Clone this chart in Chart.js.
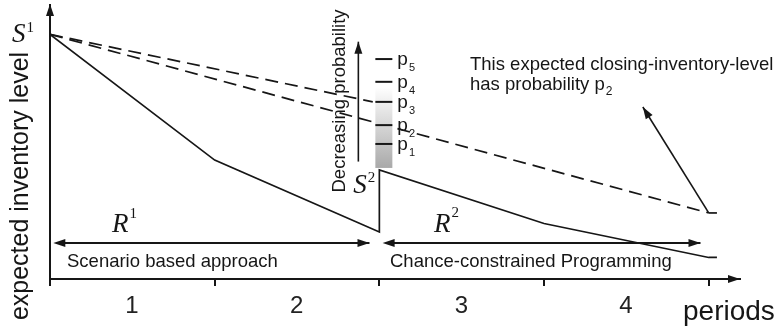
<!DOCTYPE html>
<html>
<head>
<meta charset="utf-8">
<script src="https://cdn.jsdelivr.net/npm/chart.js@4/dist/chart.umd.min.js"></script>
<style>
  body { margin: 0; background: #fff; }
  canvas { display: block; }
</style>
</head>
<body>
<canvas id="chart" width="779" height="328"></canvas>
<script>
    // values (x = period, y = expected inventory level)
    const periods = ['1', '2', '3', '4'];
    const periodTicks = [0, 1, 2, 3, 4];

    const scenarioX = [0, 1, 2, 2, 3, 4, 4.05];
    const scenarioY = [100, 48.6, 19.2, 44.6, 22.7, 8.8, 8.8];

    const p3PathX = [0, 1.96];
    const p3PathY = [100, 72.4];

    const p2PathX = [0, 4, 4.05];
    const p2PathY = [100, 27.0, 27.0];

    const probLevels = [55.2, 62.9, 72.4, 80.6, 89.9];
    const probNames = ['1', '2', '3', '4', '5'];

    const INK = '#161616';
    const SANS = '"Liberation Sans", Arial, sans-serif';
    const SERIF = '"Liberation Serif", "Times New Roman", serif';

    const toPoints = (xs, ys) => xs.map((x, i) => ({ x: x, y: ys[i] }));

    function arrowHead(ctx, x1, y1, x2, y2, len, half) {
        const a = Math.atan2(y2 - y1, x2 - x1);
        ctx.beginPath();
        ctx.moveTo(x2, y2);
        ctx.lineTo(x2 - len * Math.cos(a) + half * Math.sin(a), y2 - len * Math.sin(a) - half * Math.cos(a));
        ctx.lineTo(x2 - len * Math.cos(a) - half * Math.sin(a), y2 - len * Math.sin(a) + half * Math.cos(a));
        ctx.closePath();
        ctx.fill();
    }

    function arrow(ctx, x1, y1, x2, y2, w) {
        ctx.lineWidth = w;
        ctx.beginPath();
        ctx.moveTo(x1, y1);
        ctx.lineTo(x2, y2);
        ctx.stroke();
        arrowHead(ctx, x1, y1, x2, y2, 12, 4);
    }

    // text with a super/subscript after it
    function scripted(ctx, base, script, x, y, baseFont, scriptFont, dy) {
        ctx.font = baseFont;
        ctx.fillText(base, x, y);
        const w = ctx.measureText(base).width;
        ctx.font = scriptFont;
        ctx.fillText(script, x + w + 1, y + dy);
    }

    const sketch = {
        id: 'sketch',
        afterDatasetsDraw(chart) {
            // probability bar sits on top of the dashed path
            const { ctx, scales: { x, y } } = chart;
            const bx = x.getPixelForValue(2);
            const top = y.getPixelForValue(78.5);
            const bottom = y.getPixelForValue(45.4);
            const g = ctx.createLinearGradient(0, top, 0, bottom);
            g.addColorStop(0, 'rgba(255,255,255,1)');
            g.addColorStop(1, '#a9a9a9');
            ctx.save();
            ctx.fillStyle = g;
            ctx.fillRect(bx - 4, top, 17, bottom - top);
            ctx.restore();
        },
        afterDraw(chart) {
            const { ctx, chartArea: a, scales: { x, y } } = chart;
            const bx = x.getPixelForValue(2);
            ctx.save();
            ctx.fillStyle = INK;
            ctx.strokeStyle = INK;

            // axis arrows
            arrowHead(ctx, a.left, a.bottom, a.left, a.top - 1, 12, 4);
            arrowHead(ctx, a.left, a.bottom, a.right, a.bottom, 12, 4);

            // probability ticks and labels
            ctx.lineWidth = 2;
            probLevels.forEach((v, i) => {
                const py = y.getPixelForValue(v);
                ctx.beginPath();
                ctx.moveTo(bx - 4, py);
                ctx.lineTo(bx + 13, py);
                ctx.stroke();
                scripted(ctx, 'p', probNames[i], bx + 18, py + 6, '19px ' + SANS, '11px ' + SANS, 6);
            });

            // decreasing probability arrow
            arrow(ctx, bx - 21, y.getPixelForValue(48), bx - 21, y.getPixelForValue(97), 1.6);
            ctx.save();
            ctx.translate(bx - 34, 101);
            ctx.rotate(-Math.PI / 2);
            ctx.font = '18.5px ' + SANS;
            ctx.textAlign = 'center';
            ctx.fillText('Decreasing probability', 0, 0);
            ctx.restore();

            // range arrows R1 / R2
            const ry = y.getPixelForValue(14.7);
            [[0.02, 1.94], [2.02, 3.95]].forEach(([s, e]) => {
                const x1 = x.getPixelForValue(s), x2 = x.getPixelForValue(e);
                arrow(ctx, x1 + 10, ry, x2, ry, 2);
                arrowHead(ctx, x2, ry, x1, ry, 12, 4);
            });

            // annotation arrow to the closing level
            arrow(ctx, x.getPixelForValue(4), y.getPixelForValue(27.0), x.getPixelForValue(3.6), y.getPixelForValue(70.3), 1.6);

            // symbols
            const sFont = 'italic 27px ' + SERIF;
            const supFont = '15px ' + SERIF;
            scripted(ctx, 'S', '1', 12, 42, sFont, supFont, -10);
            scripted(ctx, 'S', '2', bx - 26, 193, sFont, supFont, -11);
            scripted(ctx, 'R', '1', 112, 232, sFont, supFont, -14);
            scripted(ctx, 'R', '2', 434, 232, sFont, supFont, -15);

            // texts
            ctx.font = '18.5px ' + SANS;
            ctx.fillText('Scenario based approach', 67, 267);
            ctx.fillText('Chance-constrained Programming', 390, 267);
            ctx.fillText('This expected closing-inventory-level', 470, 70);
            scripted(ctx, 'has probability p', '2', 470, 90, '18.5px ' + SANS, '12px ' + SANS, 5);

            ctx.font = '28px ' + SANS;
            ctx.fillText('periods', 683, 320);
            ctx.save();
            ctx.translate(28, 186);
            ctx.rotate(-Math.PI / 2);
            ctx.font = '25px ' + SANS;
            ctx.textAlign = 'center';
            ctx.fillText('expected inventory level', 0, 0);
            ctx.restore();

            ctx.restore();
        }
    };

    const line = (pts, extra) => Object.assign({
        data: pts,
        borderColor: INK,
        borderWidth: 1.7,
        pointRadius: 0,
        tension: 0,
        fill: false
    }, extra);

    new Chart(document.getElementById('chart'), {
        type: 'line',
        data: {
            datasets: [
                line(toPoints(scenarioX, scenarioY)),
                line(toPoints(p3PathX, p3PathY), { borderDash: [13, 7] }),
                line(toPoints(p2PathX, p2PathY), {
                    segment: { borderDash: c => c.p1DataIndex === p2PathX.length - 1 ? [] : [13, 7] }
                })
            ]
        },
        options: {
            responsive: false,
            animation: false,
            layout: { padding: { top: 5, right: 39, left: 0, bottom: 0 } },
            plugins: { legend: { display: false }, tooltip: { enabled: false } },
            scales: {
                x: {
                    type: 'linear',
                    min: 0,
                    max: 4.19,
                    afterBuildTicks: s => { s.ticks = periodTicks.map(v => ({ value: v })); },
                    afterFit: s => { s.height = 49; },
                    grid: { drawOnChartArea: false, tickLength: 7, color: INK, lineWidth: 2 },
                    border: { color: INK, width: 2 },
                    ticks: {
                        autoSkip: false,
                        maxRotation: 0,
                        labelOffset: 82,
                        padding: 6,
                        color: '#222',
                        font: { size: 24, family: SANS },
                        callback: (v, i) => periods[i] || ''
                    }
                },
                y: {
                    min: 0,
                    max: 112,
                    afterFit: s => { s.width = 50; },
                    ticks: { display: false },
                    grid: { display: false },
                    border: { color: INK, width: 2 }
                }
            }
        },
        plugins: [sketch]
    });
</script>
</body>
</html>
